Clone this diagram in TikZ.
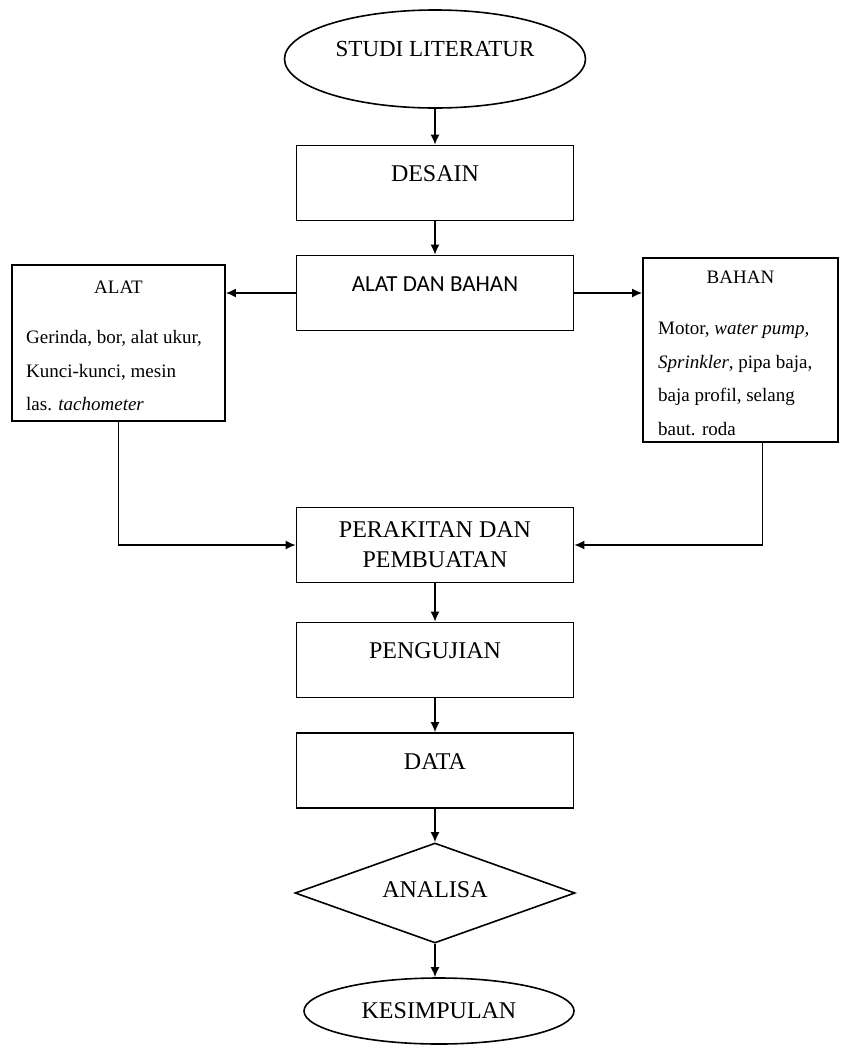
\documentclass[tikz,border=0pt]{standalone}
\usepackage{fontspec}
\setmainfont{Liberation Serif}
\newfontfamily\calibrifont{Carlito}
\usetikzlibrary{positioning,arrows.meta,calc,shapes}
\tikzset{
    process/.style = {
        draw,
        shape=rectangle,
        minimum height=75pt,
        minimum width=277pt,
        line width=1.6pt,
        font=\fontsize{24}{30}\selectfont
    },
    raised/.style = {
        text height=16pt,
        text depth=19pt
    },
    terminal/.style = {
        draw,
        shape=ellipse,
        inner sep=0pt,
        line width=1.6pt,
        font=\fontsize{24}{30}\selectfont
    },
    decision/.style = {
        draw,
        shape=diamond,
        aspect=2.8,
        inner sep=0pt,
        line width=1.6pt,
        minimum width=280pt,
        minimum height=100pt,
        font=\fontsize{24}{30}\selectfont
    },
    listbox/.style = {
        draw,
        shape=rectangle,
        line width=1.6pt
    },
    listtext/.style = {
        align=left,
        inner sep=0pt,
        font=\fontsize{19}{33.5}\selectfont
    },
    flow/.style = {
        draw,
        ->,
        line width=1.6pt
    },
    >={Latex[length=10pt,width=9pt]},
}

\begin{document}
\begin{tikzpicture}[x=1pt, y=-1pt]
            \useasboundingbox (0,0) rectangle (848,1053);

            \node[terminal, minimum width=301pt, minimum height=98pt, text height=16pt, text depth=21pt, font=\fontsize{23}{28}\selectfont] (studi) at (435,59) {STUDI LITERATUR};
            \node[process, raised] (desain) at (435,183) {DESAIN};
            \node[process, raised, font=\calibrifont\fontsize{23}{28}\selectfont] (alatbahan) at (435,293) {ALAT DAN BAHAN};

            \node[listbox, minimum width=213pt, minimum height=156pt] (alat) at (118.5,343) {};
            \node[listtext] (alattitle) at (118.5,287) {ALAT};
            \node[listtext, anchor=west] (alatlist) at (26,371) {Gerinda, bor, alat ukur,\\ Kunci-kunci, mesin\\ las. \textit{tachometer}};

            \node[listbox, minimum width=195pt, minimum height=184pt] (bahan) at (740.5,350) {};
            \node[listtext] (bahantitle) at (740.5,277) {BAHAN};
            \node[listtext, anchor=west] (bahanlist) at (658,379) {Motor, \textit{water pump,}\\ \textit{Sprinkler}, pipa baja,\\ baja profil, selang\\ baut. roda};

            \node[process, align=center] (perakitan) at (435,545) {PERAKITAN DAN\\ PEMBUATAN};
            \node[process, raised] (pengujian) at (435,660) {PENGUJIAN};
            \node[process, raised] (data) at (435,770.5) {DATA};
            \node[decision, text height=16pt, text depth=8pt] (analisa) at (435,893) {ANALISA};
            \node[terminal, minimum width=270pt, minimum height=66pt] (kesimpulan) at (439,1011) {KESIMPULAN};

            \path[flow] (studi.south) -- (desain.north);
            \path[flow] (desain.south) -- (alatbahan.north);
            \path[flow] (alatbahan.west) -- (alatbahan.west -| alat.east);
            \path[flow] (alatbahan.east) -- (alatbahan.east -| bahan.west);

            \path[flow] (alat.south) |- (perakitan.west);
            \path[flow] ([xshift=22pt]bahan.south) |- (perakitan.east);

            \path[flow] (perakitan.south) -- (pengujian.north);
            \path[flow] (pengujian.south) -- (data.north);
            \path[flow] (data.south) -- (analisa.north);
            \path[flow] (analisa.south) -- (analisa.south |- kesimpulan.north);
        \end{tikzpicture}
\end{document}
